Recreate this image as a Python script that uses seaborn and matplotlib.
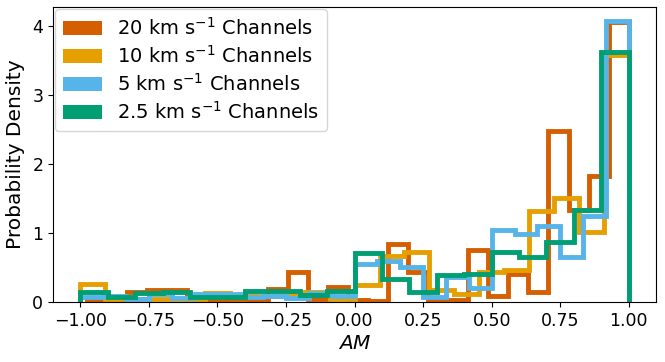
import numpy as np
import pandas as pd
import matplotlib
matplotlib.use("Agg")
import matplotlib.pyplot as plt
import seaborn as sns
from matplotlib.patches import Patch

# histogram densities, one array per channel width
labels = [r"20 km s$^{-1}$ Channels", r"10 km s$^{-1}$ Channels",
          r"5 km s$^{-1}$ Channels", r"2.5 km s$^{-1}$ Channels"]
colors = ["#D55E00", "#E69F00", "#56B4E9", "#009E73"]

am_range_20 = (-0.976, 1.0)
density_20 = [0.03, 0.03, 0.14, 0.17, 0.17, 0.03, 0.03, 0.05, 0.03, 0.19,
              0.44, 0.05, 0.22, 0.03, 0.02, 0.84, 0.43, 0.03, 0.03, 0.75,
              0.08, 0.41, 0.15, 2.48, 1.33, 1.83, 4.06]

am_range_10 = (-1.0, 1.0)
density_10 = [0.26, 0.05, 0.05, 0.04, 0.05, 0.13, 0.10, 0.09, 0.12, 0.14,
              0.05, 0.25, 0.66, 0.73, 0.17, 0.11, 0.43, 0.47, 1.32, 1.51,
              1.01, 3.58]

am_range_5 = (-1.0, 1.0)
density_5 = [0.07, 0.09, 0.05, 0.12, 0.06, 0.12, 0.11, 0.07, 0.09, 0.06,
             0.13, 0.09, 0.55, 0.60, 0.51, 0.07, 0.36, 0.20, 1.05, 0.98,
             1.10, 0.65, 1.25, 4.07]

am_range_25 = (-1.0, 1.0)
density_25 = [0.15, 0.075, 0.13, 0.15, 0.075, 0.075, 0.16, 0.16, 0.10, 0.16,
              0.71, 0.34, 0.15, 0.39, 0.41, 0.72, 0.65, 0.87, 1.34, 3.62]

series = [(am_range_20, density_20), (am_range_10, density_10),
          (am_range_5, density_5), (am_range_25, density_25)]

fig = plt.figure(figsize=(6.65, 3.62), dpi=100)
ax = fig.add_axes([0.0797, 0.1657, 0.907, 0.815])

for (rng, dens), color in zip(series, colors):
    edges = np.linspace(rng[0], rng[1], len(dens) + 1)
    df = pd.DataFrame({"am": (edges[:-1] + edges[1:]) / 2, "density": dens})
    sns.histplot(data=df, x="am", weights="density", bins=edges.tolist(),
                 stat="count", element="step", fill=False, color=color,
                 linewidth=3.5, ax=ax)
    # close the outline down to zero like a matplotlib step histogram
    line = ax.lines[-1]
    xd, yd = line.get_data()
    line.set_data(np.r_[xd[0], xd, xd[-1]], np.r_[0, yd, 0])
    line.set_solid_joinstyle("miter")

ax.relim()
ax.autoscale_view()
ax.set_ylim(bottom=0)

ax.set_xticks([-1.0, -0.75, -0.5, -0.25, 0.0, 0.25, 0.5, 0.75, 1.0])
ax.set_xticklabels([f"{t:.2f}".replace("-", "\u2212") for t in ax.get_xticks()])
ax.tick_params(labelsize=12.5)
ax.set_xlabel("$AM$", fontsize=14.5, labelpad=3)
ax.set_ylabel("Probability Density", fontsize=14.5, labelpad=5)

handles = [Patch(facecolor=c, label=l) for c, l in zip(colors, labels)]
ax.legend(handles=handles, loc="upper left", fontsize=14, borderaxespad=0.1,
          labelspacing=0.32)

fig.savefig("out.png", dpi=100)
